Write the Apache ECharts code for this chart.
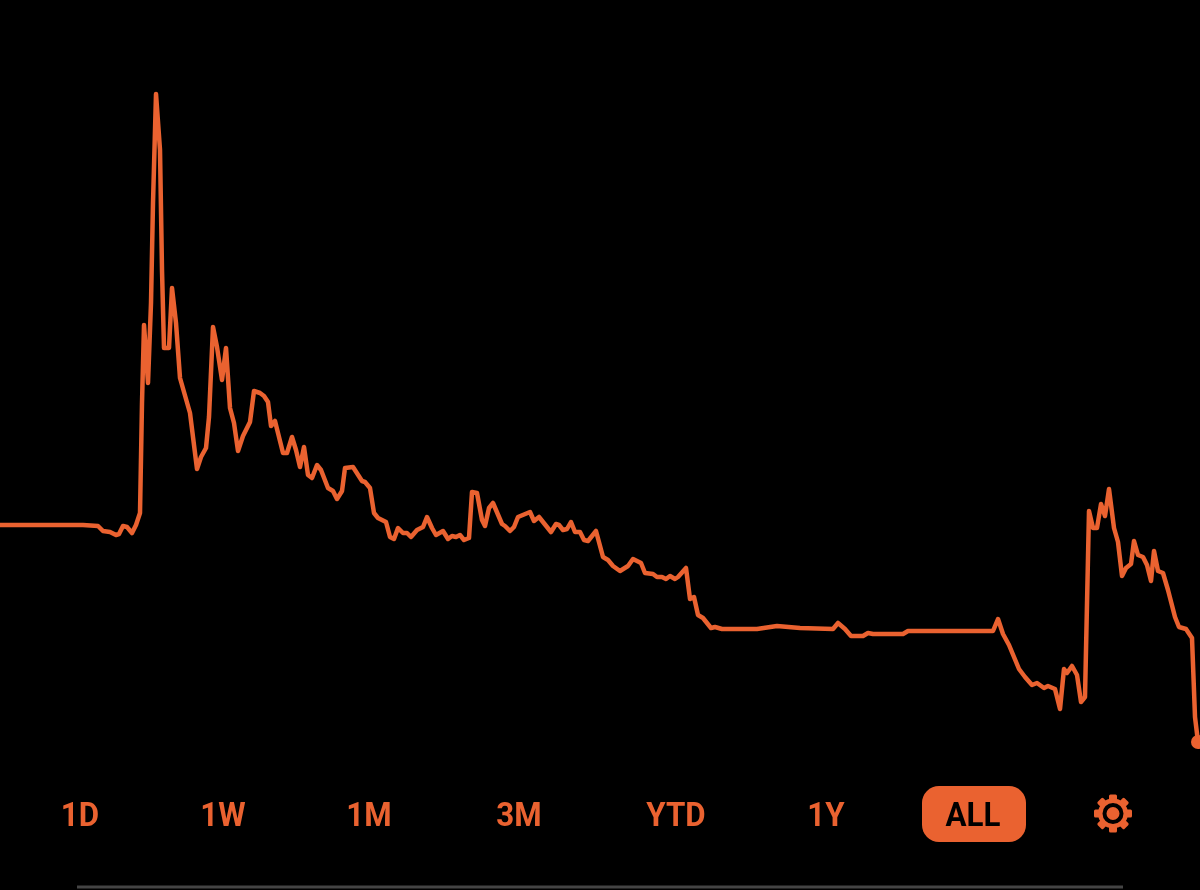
<!DOCTYPE html>
<html>
<head>
<meta charset="utf-8">
<style>html,body{margin:0;padding:0;background:#000}#c{width:1200px;height:890px}</style>
<script src="https://cdn.jsdelivr.net/npm/echarts@6/dist/echarts.min.js"></script>
</head>
<body>
<div id="c"></div>
<script>
const times = [0,83,98,103,110,116,119,123,127,132,136,140,142,144,148,151,153,156,160,162,164,169,172,176,180,190,197,201,206,209,213,217,222,226,230,234,238,243,250,254,260,264,268,271,275,283,287,292,296,300,304,308,312,317,321,328,333,337,342,
345,353,362,365,370,374,378,386,390,394,398,403,407,411,417,423,427,432,436,443,448,452,456,460,464,469,472,477,482,485,489,493,502,505,510,514,518,530,534,539,551,556,559,563,567,571,575,580,584,588,596,603,608,613,620,628,633,641,645,653,657,662,666,670,675,678,686,690,694,698,703,711,715,722,730,
750,757,777,800,833,838,845,851,863,868,873,903,908,980,993,
998,1003,1009,1019,1025,1032,1037,1044,1048,1055,1060,1064,1067,1072,1077,1081,1085,1089,1093,1097,1101,1105,1109,1114,1118,1122,1126,1131,1134,1138,1143,1147,1151,1154,1158,1163,1168,1175,1179,1186,1192,1195,1198];
const prices = [365,365,364,359,358,355,356,364,363,357,365,377,487,565,507,587,687,796,740,620,542,542,602,567,512,477,421,433,442,473,563,543,510,542,482,467,439,454,468,499,497,494,488,464,469,437,437,453,440,423,443,415,412,425,420,402,399,391,399,
422,423,409,408,402,377,372,368,353,351,362,357,357,353,360,363,373,362,355,359,351,354,353,355,350,352,398,397,370,364,382,387,366,364,359,363,373,378,369,373,358,366,365,360,361,368,358,358,350,349,359,333,330,324,319,324,331,327,317,316,313,313,311,314,311,313,322,291,293,275,272,262,263,261,261,
261,261,264,262,261,267,261,254,254,257,256,256,259,259,259,
271,256,245,221,213,205,207,202,204,201,181,221,217,224,215,188,193,379,362,362,386,374,401,362,348,314,322,326,349,335,333,325,309,339,319,317,300,273,263,261,252,173,148];
const rangeLabels = ['1D','1W','1M','3M','YTD','1Y','ALL'];
const rangeCenters = [80,223,369,519,676,826,973];
const activeRange = 'ALL';
const accent = '#EA6230';

const chart = echarts.init(document.getElementById('c'));
const graphic = [];
graphic.push({type:'rect',shape:{x:922,y:786,width:104,height:56,r:17},style:{fill:accent},z:5});
rangeLabels.forEach((t,i)=>{
  graphic.push({type:'text',x:rangeCenters[i],y:817,scaleX:0.92,z:6,style:{
    text:t,align:'center',verticalAlign:'middle',
    font:'700 34px Roboto',fill:t===activeRange?'#000':accent}});
});
// settings gear
graphic.push({type:'circle',shape:{cx:1113,cy:813.5,r:15},style:{fill:accent},z:5});
graphic.push({type:'ring',shape:{cx:1113,cy:813.5,r:10.5,r0:6.5},style:{fill:'#000'},z:6});
for(let k=0;k<8;k++){
  graphic.push({type:'rect',x:1113,y:813.5,rotation:k*Math.PI/4,
    shape:{x:-4,y:-19,width:8,height:7,r:1.5},style:{fill:accent},z:5});
}
graphic.push({type:'rect',shape:{x:77,y:885.5,width:1046,height:3},style:{fill:'#444'},z:5});

chart.setOption({
  backgroundColor:'#000',
  animation:false,
  grid:{left:0,right:0,top:0,bottom:0},
  xAxis:{type:'value',min:0,max:1200,show:false},
  yAxis:{type:'value',min:0,max:890,show:false},
  series:[
    {type:'line',data:times.map((t,i)=>[t,prices[i]]),showSymbol:false,smooth:false,
     lineStyle:{color:accent,width:4.5,join:'round'},clip:false},
    {type:'scatter',data:[[times[times.length-1],prices[prices.length-1]]],symbol:'circle',symbolSize:14,
     itemStyle:{color:accent,opacity:1},clip:false}
  ],
  graphic:graphic
});
</script>
</body>
</html>
